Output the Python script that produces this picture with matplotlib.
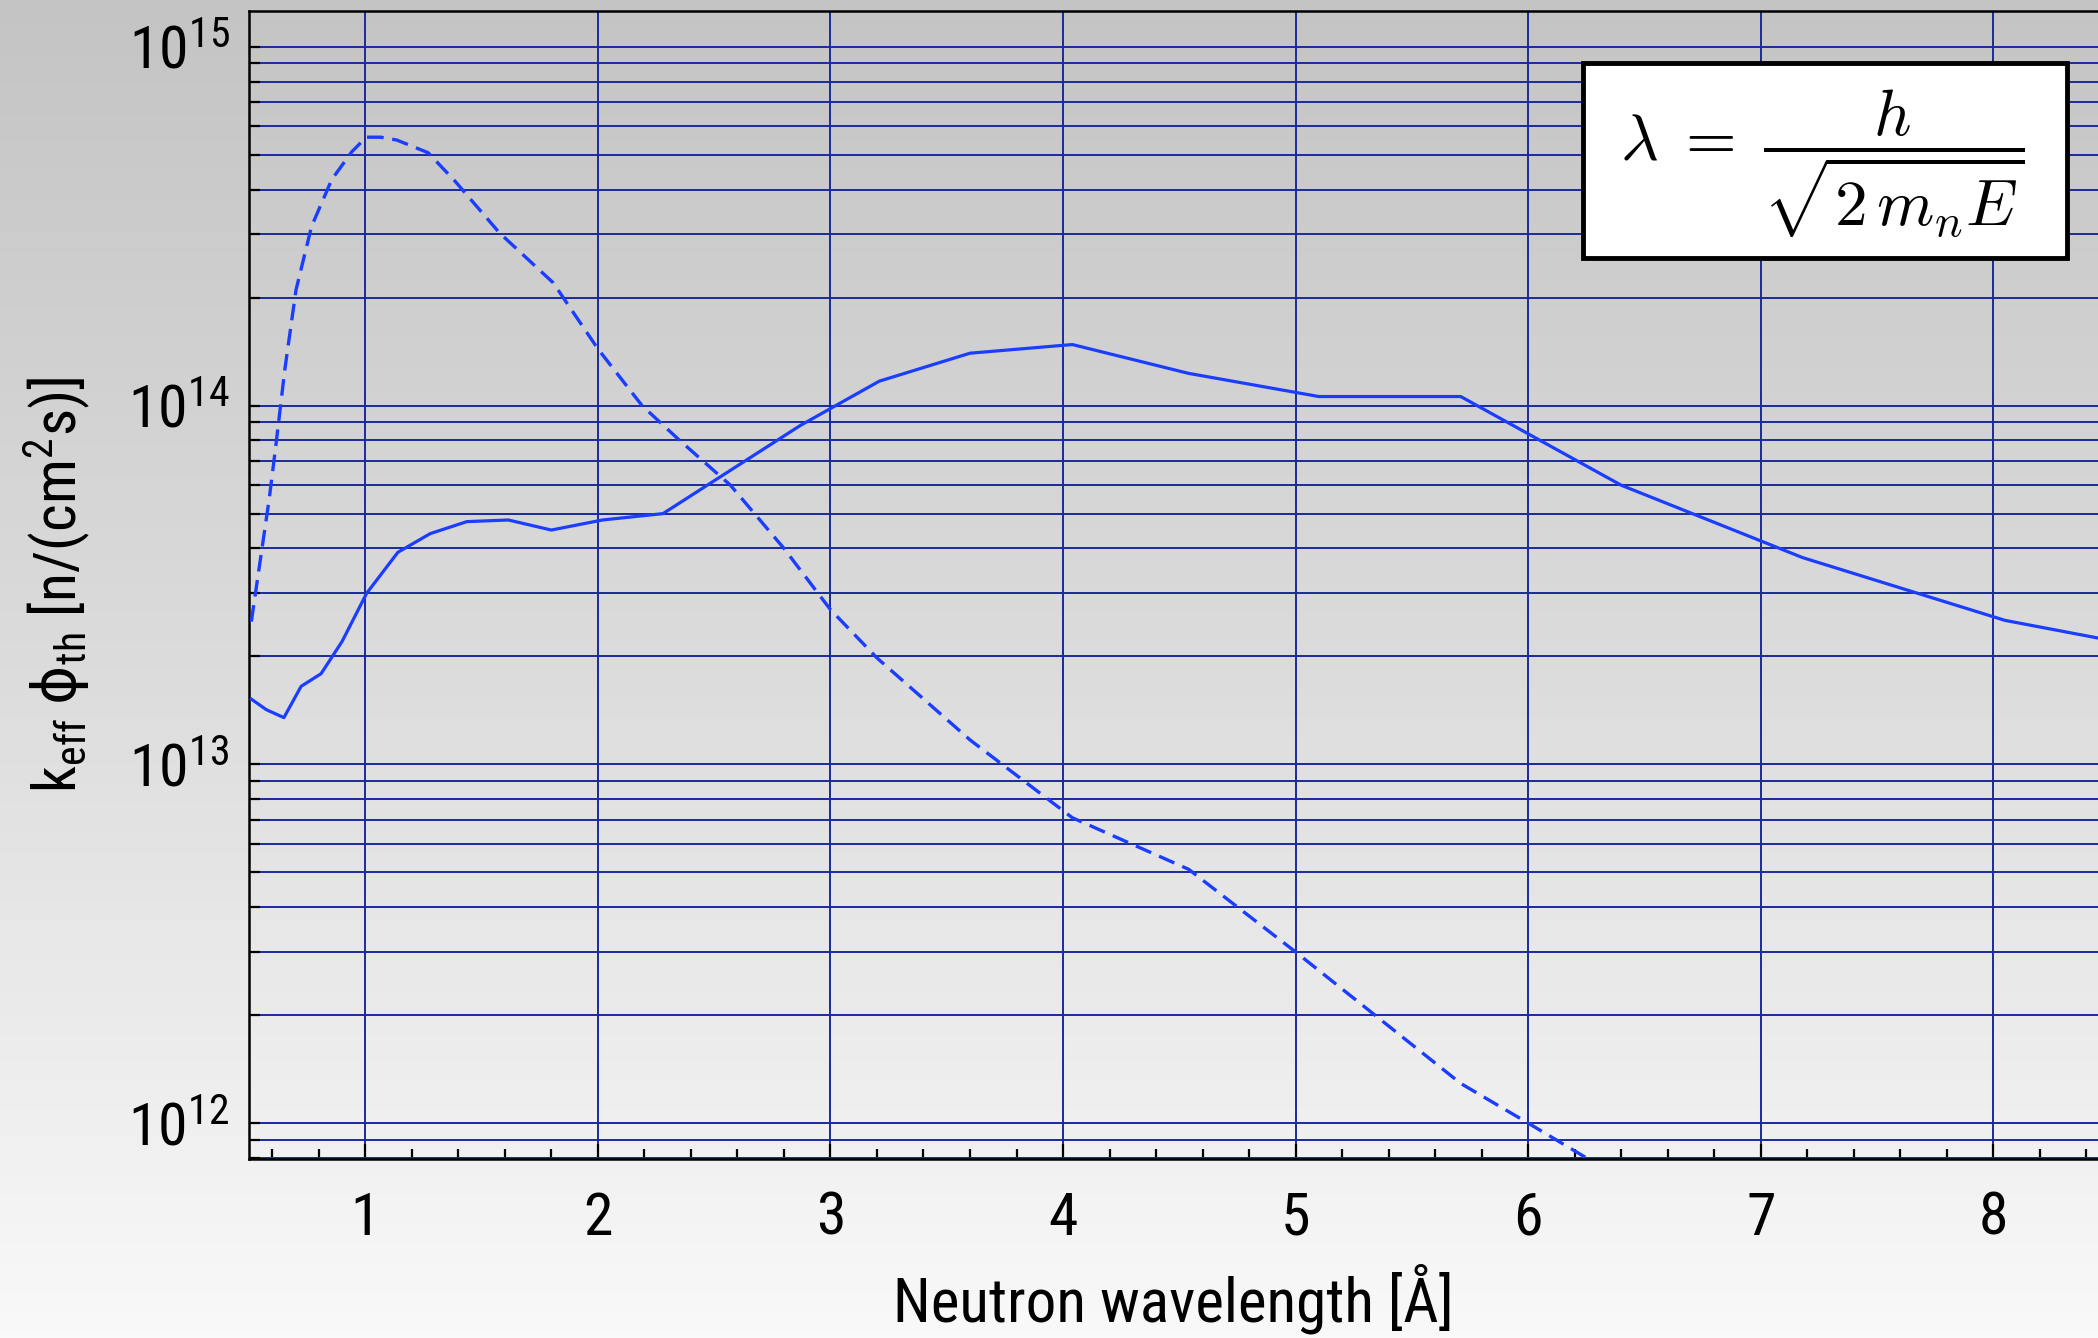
import matplotlib
matplotlib.use("Agg")
import matplotlib.pyplot as plt
import numpy as np
from matplotlib import font_manager
from matplotlib.colors import LinearSegmentedColormap
from matplotlib.patches import Rectangle
from matplotlib.ticker import FixedLocator, MultipleLocator, LogLocator, NullFormatter

# ---------------- data ----------------
solid_x = [0.51, 0.575, 0.65, 0.724, 0.81, 0.90, 1.006, 1.14, 1.28, 1.437, 1.615,
           1.80, 2.02, 2.28, 2.87, 3.21, 3.60, 4.04, 4.54, 5.10, 5.71, 6.40,
           7.18, 8.05, 8.45]
solid_y = [1.52e13, 1.42e13, 1.35e13, 1.65e13, 1.79e13, 2.2e13, 3.0e13, 3.9e13,
           4.4e13, 4.75e13, 4.8e13, 4.5e13, 4.8e13, 5.0e13, 8.8e13, 1.17e14,
           1.40e14, 1.48e14, 1.23e14, 1.06e14, 1.06e14, 6.0e13, 3.77e13,
           2.52e13, 2.25e13]

dashed_x = [0.51, 0.587, 0.615, 0.654, 0.702, 0.769, 0.856, 0.942, 1.004, 1.067,
            1.135, 1.27, 1.385, 1.577, 1.808, 2.0, 2.19, 2.346, 2.57, 2.80, 3.0,
            3.2, 3.6, 4.04, 4.54, 5.0, 5.71, 6.0, 6.4]
dashed_y = [2.5e13, 5.5e13, 7.7e13, 1.26e14, 2.1e14, 3.16e14, 4.27e14, 5.1e14,
            5.6e14, 5.6e14, 5.5e14, 5.07e14, 4.23e14, 3.03e14, 2.2e14, 1.44e14,
            1.0e14, 8.06e13, 6.0e13, 4.0e13, 2.7e13, 1.98e13, 1.17e13, 7.1e12,
            5.1e12, 3.0e12, 1.29e12, 1.0e12, 7.0e11]

x_ticks = [1, 2, 3, 4, 5, 6, 7, 8]
y_decades = [12, 13, 14, 15]

# ---------------- font: the narrowest one we have ----------------
names = {f.name for f in font_manager.fontManager.ttflist}
family = 'DejaVu Sans'
for cand in ['Roboto Condensed', 'Liberation Sans Narrow', 'Roboto']:
    if cand in names:
        family = cand
        break
font = dict(family=[family, 'DejaVu Sans'])

line_col = '#1a3dff'
grid_col = '#1a2a9c'

fig = plt.figure(figsize=[20.98, 13.38], dpi=100)

# gray-to-white background behind everything
bg = fig.add_axes([0, 0, 1, 1], zorder=0)
cmap = LinearSegmentedColormap.from_list('bg', ['#f9f9f9', '#dcdcdc', '#c4c4c4'])
bg.imshow(np.linspace(0, 1, 256).reshape(-1, 1)[::-1], aspect='auto', cmap=cmap,
          extent=[0, 1, 0, 1])
bg.set_axis_off()

ax = fig.add_axes([249 / 2098, 179 / 1338, 1 - 249 / 2098, 1 - 190 / 1338], zorder=1)
ax.patch.set_alpha(0)

ax.plot(solid_x, solid_y, c=line_col, lw=2.3, zorder=3)
ax.plot(dashed_x, dashed_y, c=line_col, lw=2.4, dashes=(5, 2.6), zorder=3)

ax.set_yscale('log')
ax.set_xlim(0.5, 8.45)
ax.set_ylim(10 ** 11.9, 10 ** 15.1)

ax.xaxis.set_major_locator(FixedLocator(x_ticks))
ax.xaxis.set_minor_locator(MultipleLocator(0.2))
ax.yaxis.set_major_locator(FixedLocator([10.0 ** d for d in y_decades]))
ax.yaxis.set_minor_locator(LogLocator(base=10, subs=np.arange(2, 10)))
ax.yaxis.set_minor_formatter(NullFormatter())
ax.set_xticklabels([str(t) for t in x_ticks], fontsize=43, **font)
ax.set_yticklabels([r'$\mathregular{10^{%d}}$' % d for d in y_decades], fontsize=43, **font)

ax.tick_params(which='both', direction='in', color='k', width=1.6)
ax.tick_params(axis='x', which='major', length=11, pad=22)
ax.tick_params(axis='x', which='minor', length=7)
ax.tick_params(axis='y', which='both', length=8, pad=14)

ax.grid(which='major', axis='x', color=grid_col, lw=1.4)
ax.grid(which='both', axis='y', color=grid_col, lw=1.4)
ax.set_axisbelow(True)

for s in ['left', 'bottom', 'top']:
    ax.spines[s].set_color('k')
    ax.spines[s].set_linewidth(1.8)
ax.spines['right'].set_visible(False)

ax.set_xlabel(u'Neutron wavelength [Å]', fontsize=44, labelpad=12, **font)
ax.set_ylabel(r'k$_\mathregular{eff}$ $\mathrm{\phi}_\mathregular{th}$ [n/(cm$^\mathregular{2}$s)]',
              fontsize=43, labelpad=26, **font)

# formula box
fig.add_artist(Rectangle((1583 / 2098, 1 - 258 / 1338), 484 / 2098, 195 / 1338,
                         transform=fig.transFigure, facecolor='white',
                         edgecolor='k', lw=3.5, zorder=5))
fig.text(1822 / 2098, 1 - 164 / 1338, r'$\lambda \;=\; \dfrac{h}{\sqrt{2\,m_n E}}$',
         fontsize=47, math_fontfamily='cm', ha='center', va='center', zorder=6)

plt.savefig('out.png', dpi=100)
plt.close(fig)
